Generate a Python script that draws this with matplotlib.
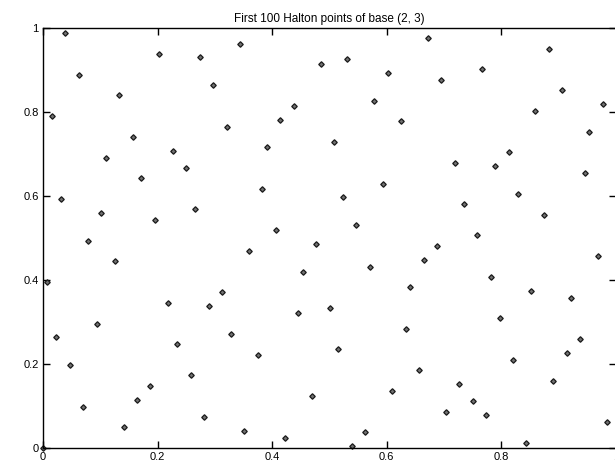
import matplotlib
matplotlib.use("Agg")
import matplotlib.pyplot as plt

plt.rcParams['font.family'] = ['Liberation Sans', 'DejaVu Sans']

title = "First 100 Halton points of base (2, 3)"

# First 100 Halton points (index 0..99), base 2 coordinate
x_vals = [
    0.0, 0.5, 0.25, 0.75, 0.125, 0.625, 0.375, 0.875, 0.0625, 0.5625,
    0.3125, 0.8125, 0.1875, 0.6875, 0.4375, 0.9375, 0.0313, 0.5313, 0.2813, 0.7813,
    0.1563, 0.6563, 0.4063, 0.9063, 0.0938, 0.5938, 0.3438, 0.8438, 0.2188, 0.7188,
    0.4688, 0.9688, 0.0156, 0.5156, 0.2656, 0.7656, 0.1406, 0.6406, 0.3906, 0.8906,
    0.0781, 0.5781, 0.3281, 0.8281, 0.2031, 0.7031, 0.4531, 0.9531, 0.0469, 0.5469,
    0.2969, 0.7969, 0.1719, 0.6719, 0.4219, 0.9219, 0.1094, 0.6094, 0.3594, 0.8594,
    0.2344, 0.7344, 0.4844, 0.9844, 0.0078, 0.5078, 0.2578, 0.7578, 0.1328, 0.6328,
    0.3828, 0.8828, 0.0703, 0.5703, 0.3203, 0.8203, 0.1953, 0.6953, 0.4453, 0.9453,
    0.0391, 0.5391, 0.2891, 0.7891, 0.1641, 0.6641, 0.4141, 0.9141, 0.1016, 0.6016,
    0.3516, 0.8516, 0.2266, 0.7266, 0.4766, 0.9766, 0.0234, 0.5234, 0.2734, 0.7734,
]
# base 3 coordinate
y_vals = [
    0.0, 0.3333, 0.6667, 0.1111, 0.4444, 0.7778, 0.2222, 0.5556, 0.8889, 0.0370,
    0.3704, 0.7037, 0.1481, 0.4815, 0.8148, 0.2593, 0.5926, 0.9259, 0.0741, 0.4074,
    0.7407, 0.1852, 0.5185, 0.8519, 0.2963, 0.6296, 0.9630, 0.0123, 0.3457, 0.6790,
    0.1235, 0.4568, 0.7901, 0.2346, 0.5679, 0.9012, 0.0494, 0.3827, 0.7160, 0.1605,
    0.4938, 0.8272, 0.2716, 0.6049, 0.9383, 0.0864, 0.4198, 0.7531, 0.1975, 0.5309,
    0.8642, 0.3086, 0.6420, 0.9753, 0.0247, 0.3580, 0.6914, 0.1358, 0.4691, 0.8025,
    0.2469, 0.5802, 0.9136, 0.0617, 0.3951, 0.7284, 0.1728, 0.5062, 0.8395, 0.2840,
    0.6173, 0.9506, 0.0988, 0.4321, 0.7654, 0.2099, 0.5432, 0.8765, 0.3210, 0.6543,
    0.9877, 0.0041, 0.3374, 0.6708, 0.1152, 0.4486, 0.7819, 0.2263, 0.5597, 0.8930,
    0.0412, 0.3745, 0.7078, 0.1523, 0.4856, 0.8189, 0.2634, 0.5967, 0.9300, 0.0782,
]

x_ticks = [0, 0.2, 0.4, 0.6, 0.8, 1]
x_ticklabels = ["0", "0.2", "0.4", "0.6", "0.8", "1"]
y_ticks = [0, 0.2, 0.4, 0.6, 0.8, 1]
y_ticklabels = ["0", "0.2", "0.4", "0.6", "0.8", "1"]

fig = plt.figure(figsize=(6.15, 4.66), dpi=100)
ax = fig.add_axes([43 / 615, 18 / 466, 573 / 615, 420 / 466])

ax.plot(x_vals, y_vals, linestyle='none', marker='D', markersize=2.8,
        markerfacecolor='#707070', markeredgecolor='#1a1a1a', markeredgewidth=0.9,
        clip_on=False)

ax.set_xlim(0, 1)
ax.set_ylim(0, 1)
ax.set_xticks(x_ticks)
ax.set_xticklabels(x_ticklabels)
ax.set_yticks(y_ticks)
ax.set_yticklabels(y_ticklabels)
ax.tick_params(direction='in', top=True, right=True, length=5, width=1,
               labelsize=8, pad=3)
for s in ax.spines.values():
    s.set_linewidth(1.0)
ax.set_title(title, fontsize=8.5, pad=4)

fig.savefig("out.png", dpi=100)
